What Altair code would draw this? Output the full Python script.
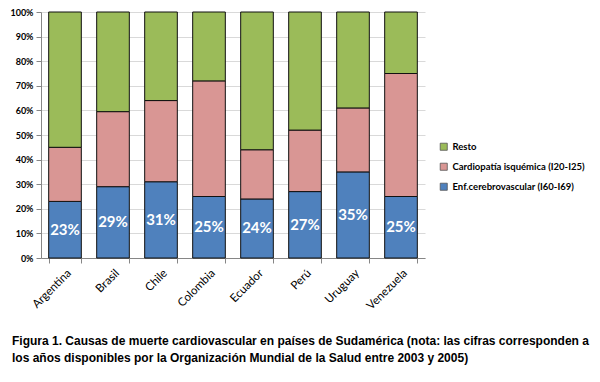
import altair as alt
import pandas as pd

paises = ["Argentina", "Brasil", "Chile", "Colombia", "Ecuador", "Perú", "Uruguay", "Venezuela"]
cerebro = [23, 29, 31, 25, 24, 27, 35, 25]
isquemica = [22, 30.5, 33, 47, 20, 25, 26, 50]
resto = [55, 40.5, 36, 28, 56, 48, 39, 25]
ticks_y = [0.0, 0.1, 0.2, 0.3, 0.4, 0.5, 0.6, 0.7, 0.8, 0.9, 1.0]

series = ["Resto", "Cardiopatía isquémica (I20-I25)", "Enf.cerebrovascular (I60-I69)"]
colores = ["#9BBB59", "#D99694", "#4F81BD"]
orden = {series[2]: 0, series[1]: 1, series[0]: 2}

rows = []
for i, p in enumerate(paises):
    for s, vals in ((series[2], cerebro), (series[1], isquemica), (series[0], resto)):
        rows.append({"pais": p, "serie": s, "valor": vals[i] / 100.0, "orden": orden[s]})
df = pd.DataFrame(rows)

lab = pd.DataFrame({"pais": paises, "mid": [v / 200.0 for v in cerebro],
                    "txt": [f"{v}%" for v in cerebro]})

xaxis = alt.Axis(labelAngle=-45, tickBand="extent", labelFont="Lato",
                 labelFontSize=11.5, labelColor="#000", domainColor="#868686",
                 tickColor="#868686", tickSize=5, labelPadding=4)
yaxis = alt.Axis(format=".0%", values=ticks_y, labelOverlap=False, tickCount=11,
                 labelFont="Lato", labelFontWeight="bold", labelFontSize=9,
                 labelColor="#000", gridColor="#D9D9D9", domainColor="#868686",
                 tickColor="#868686", tickSize=5, labelPadding=3)
xscale = alt.Scale(paddingInner=0.32, paddingOuter=0.16)
yscale = alt.Scale(domain=[0, 1])

bars = alt.Chart(df).mark_bar(stroke="#111", strokeWidth=1).encode(
    x=alt.X("pais:N", sort=paises, title=None, scale=xscale, axis=xaxis),
    y=alt.Y("valor:Q", stack="zero", title=None, scale=yscale, axis=yaxis),
    color=alt.Color("serie:N", scale=alt.Scale(domain=series, range=colores),
                    legend=alt.Legend(title=None, orient="none", legendX=398, legendY=130,
                                      symbolType="square", symbolSize=50, symbolStrokeColor="#555",
                                      symbolStrokeWidth=0.8,
                                      labelFont="Lato", labelFontWeight="bold", labelFontSize=9.5,
                                      labelColor="#000", rowPadding=9, labelLimit=300)),
    order=alt.Order("orden:Q", sort="ascending"),
)

text = alt.Chart(lab).mark_text(color="white", font="Lato", fontWeight="bold", fontSize=15).encode(
    x=alt.X("pais:N", sort=paises, title=None, scale=xscale, axis=xaxis),
    y=alt.Y("mid:Q", title=None, scale=yscale, axis=yaxis),
    text="txt:N",
)

chart = alt.layer(bars, text).properties(
    width=384, height=246,
    autosize=alt.AutoSizeParams(type="none"),
    padding={"left": 33, "top": 4, "right": 167, "bottom": 116},
    title=alt.TitleParams(
        text=["Figura 1. Causas de muerte cardiovascular en países de Sudamérica (nota: las cifras corresponden a",
              "los años disponibles por la Organización Mundial de la Salud entre 2003 y 2005)"],
        orient="bottom", anchor="start", frame="group", dx=-29, offset=24,
        font="Liberation Sans", fontSize=12, fontWeight="bold", lineHeight=17, color="#000"),
).configure_view(stroke=None)

chart.save("out.html", embed_options={"renderer": "svg", "actions": False})
